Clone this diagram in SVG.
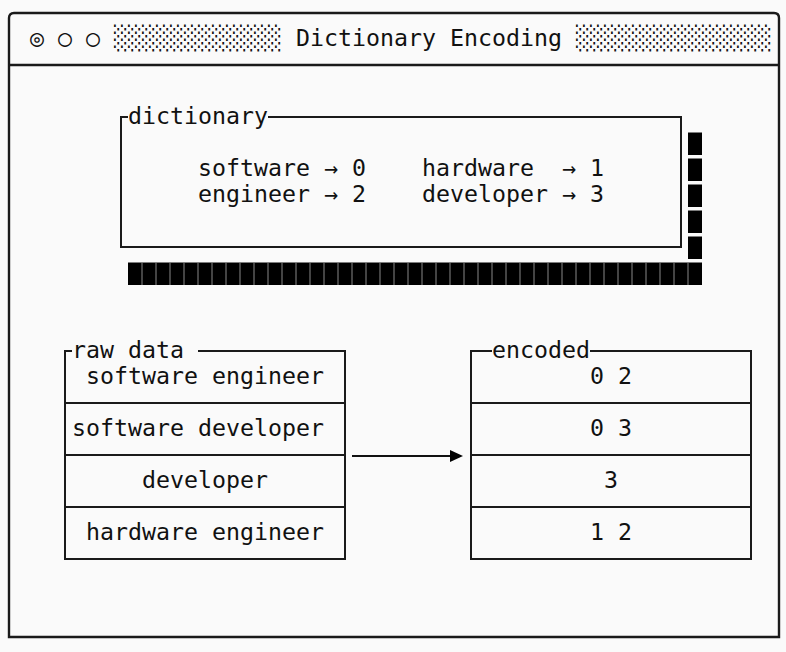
<svg xmlns="http://www.w3.org/2000/svg" width="786" height="652" viewBox="0 0 786 652">
<defs>
<style>
text{font-family:"DejaVu Sans Mono","Liberation Mono",monospace;font-size:23.25px;fill:#111;white-space:pre}
.frame{fill:none;stroke:#1a1a1a;stroke-width:2.4}
.box{fill:none;stroke:#1a1a1a;stroke-width:2}
.blk{fill:#000}
.gap{stroke:#888;stroke-width:1}
.conn{fill:none;stroke:#111;stroke-width:2}
</style>
<marker id="ah" markerWidth="14" markerHeight="12" refX="0" refY="6" orient="auto" markerUnits="userSpaceOnUse">
<path d="M0,0 L13,6 L0,12 Z" fill="#000"/>
</marker>
</defs>
<rect width="786" height="652" fill="#fafafa"/>
<g id="window">
<path class="frame" d="M9,637 L9,18 Q9,13 14,13 L774,13 Q779,13 779,18 L779,637 Z"/>
<line class="frame" x1="9" y1="65" x2="779" y2="65"/>
<text x="30" y="46">◎</text>
<text x="58" y="46">○</text>
<text x="86" y="46">○</text>
<text x="114" y="46">░░░░░░░░░░░░</text>
<text x="296" y="46">Dictionary Encoding</text>
<text x="576" y="46">░░░░░░░░░░░░░░</text>
</g>
<g id="dictionary">
<g class="blk">
<rect x="688" y="132.5" width="14" height="22.5"/>
<rect x="688" y="158.5" width="14" height="22.5"/>
<rect x="688" y="184.5" width="14" height="22.5"/>
<rect x="688" y="210.5" width="14" height="22.5"/>
<rect x="688" y="236.5" width="14" height="22.5"/>
<rect x="128" y="262.5" width="574" height="22.5"/>
</g>
<path class="gap" d="M142,262.5v22.5M156,262.5v22.5M170,262.5v22.5M184,262.5v22.5M198,262.5v22.5M212,262.5v22.5M226,262.5v22.5M240,262.5v22.5M254,262.5v22.5M268,262.5v22.5M282,262.5v22.5M296,262.5v22.5M310,262.5v22.5M324,262.5v22.5M338,262.5v22.5M352,262.5v22.5M366,262.5v22.5M380,262.5v22.5M394,262.5v22.5M408,262.5v22.5M422,262.5v22.5M436,262.5v22.5M450,262.5v22.5M464,262.5v22.5M478,262.5v22.5M492,262.5v22.5M506,262.5v22.5M520,262.5v22.5M534,262.5v22.5M548,262.5v22.5M562,262.5v22.5M576,262.5v22.5M590,262.5v22.5M604,262.5v22.5M618,262.5v22.5M632,262.5v22.5M646,262.5v22.5M660,262.5v22.5M674,262.5v22.5M688,262.5v22.5"/>
<path class="box" d="M128,117 L121,117 L121,247 L681,247 L681,117 L268,117"/>
<text x="128" y="124">dictionary</text>
<text x="198" y="176">software → 0</text>
<text x="422" y="176">hardware  → 1</text>
<text x="198" y="202">engineer → 2</text>
<text x="422" y="202">developer → 3</text>
</g>
<g id="raw-data">
<path class="box" d="M72,351 L65,351 L65,559 L345,559 L345,351 L198,351"/>
<path class="box" d="M65,403 H345 M65,455 H345 M65,507 H345"/>
<text x="72" y="358">raw data</text>
<text x="86" y="384">software engineer</text>
<text x="72" y="436">software developer</text>
<text x="142" y="488">developer</text>
<text x="86" y="540">hardware engineer</text>
</g>
<g id="encoded">
<path class="box" d="M492,351 L471,351 L471,559 L751,559 L751,351 L590,351"/>
<path class="box" d="M471,403 H751 M471,455 H751 M471,507 H751"/>
<text x="492" y="358">encoded</text>
<text x="590" y="384">0 2</text>
<text x="590" y="436">0 3</text>
<text x="604" y="488">3</text>
<text x="590" y="540">1 2</text>
</g>
<g id="connectors">
<line class="conn" x1="352" y1="456" x2="450" y2="456" marker-end="url(#ah)"/>
</g>
</svg>
